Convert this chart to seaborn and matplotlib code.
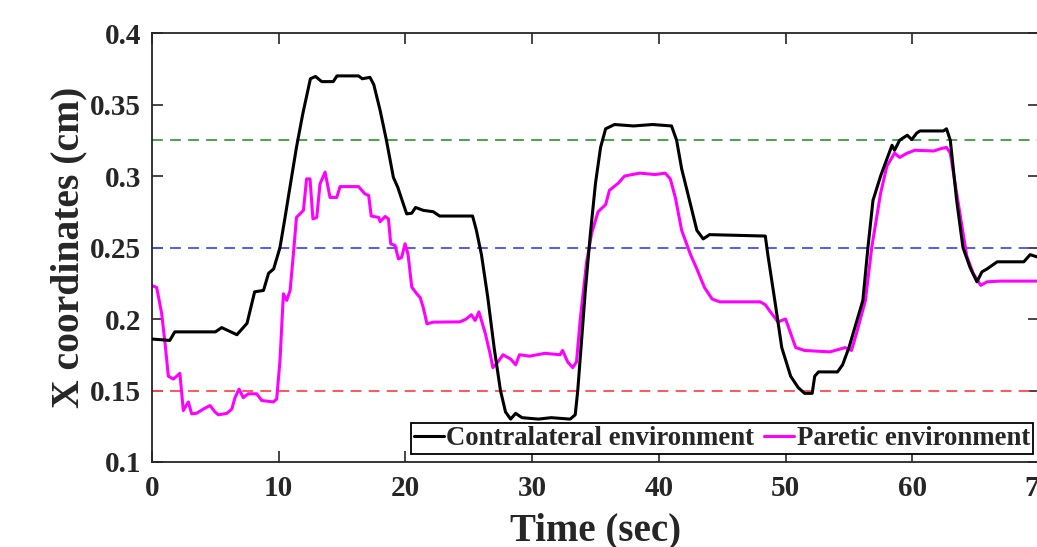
import matplotlib
matplotlib.use("Agg")
import matplotlib.pyplot as plt
import seaborn as sns

# Contralateral environment (black curve)
contra_time = [0, 1.4, 1.8, 5.0, 5.5, 6.7, 7.5, 8.1, 8.8, 9.2, 9.6, 10.1, 10.5, 10.8, 11.4, 11.9,
               12.5, 12.9, 13.4, 14.3, 14.6, 16.3, 16.6, 17.2, 17.5, 18.0, 18.5, 19.05, 19.4, 19.7,
               20.1, 20.5, 20.8, 21.4, 22.2, 22.7, 25.3, 25.6, 26.0, 26.5, 27.0, 27.5, 27.9, 28.3,
               28.7, 29.2, 30.5, 31.5, 33.0, 33.4, 33.6, 34.2, 34.6, 35.0, 35.4, 35.8, 36.5, 38.0,
               39.5, 41.0, 41.4, 41.8, 42.5, 43.0, 43.5, 44.0, 48.4, 48.6, 49.2, 49.7, 50.4, 51.0,
               51.5, 52.1, 52.3, 52.6, 54.1, 54.5, 55.0, 55.5, 56.1, 56.5, 56.9, 57.5, 58.0, 58.4,
               58.6, 59.0, 59.6, 59.96, 60.35, 60.6, 62.45, 62.7, 63.0, 63.5, 64.0, 64.56, 65.1,
               65.5, 65.9, 66.7, 68.8, 69.3, 70]
contra_x = [0.186, 0.185, 0.191, 0.191, 0.194, 0.189, 0.197, 0.219, 0.22, 0.232, 0.235, 0.25,
            0.271, 0.2875, 0.32, 0.3435, 0.368, 0.3696, 0.366, 0.366, 0.37, 0.37, 0.368, 0.369,
            0.364, 0.346, 0.325, 0.299, 0.292, 0.284, 0.2735, 0.274, 0.278, 0.276, 0.275, 0.272,
            0.272, 0.262, 0.245, 0.215, 0.18, 0.15, 0.135, 0.13, 0.134, 0.131, 0.13, 0.131, 0.13,
            0.133, 0.15, 0.22, 0.26, 0.295, 0.32, 0.333, 0.336, 0.335, 0.336, 0.335, 0.325, 0.305,
            0.28, 0.262, 0.256, 0.259, 0.258, 0.245, 0.21, 0.18, 0.16, 0.152, 0.148, 0.148, 0.16,
            0.163, 0.163, 0.168, 0.18, 0.195, 0.213, 0.25, 0.283, 0.300, 0.312, 0.3215, 0.318,
            0.325, 0.3285, 0.3255, 0.330, 0.3315, 0.3315, 0.333, 0.325, 0.283, 0.25, 0.236, 0.226,
            0.233, 0.235, 0.240, 0.240, 0.245, 0.243]

# Paretic environment (magenta curve)
paretic_time = [0, 0.37, 0.76, 1.03, 1.29, 1.68, 1.95, 2.2, 2.47, 2.87, 3.13, 3.5, 4.05, 4.58,
                4.97, 5.24, 5.9, 6.3, 6.55, 6.87, 7.2, 7.6, 8.26, 8.66, 9.58, 9.84, 10.1, 10.37,
                10.63, 10.9, 11.16, 11.4, 11.95, 12.2, 12.47, 12.7, 13.0, 13.26, 13.66, 14.05,
                14.58, 14.84, 16.3, 16.8, 17.1, 17.3, 17.9, 18.0, 18.4, 18.66, 18.84, 19.18, 19.45,
                19.7, 19.97, 20.2, 20.5, 20.9, 21.16, 21.4, 21.7, 22.2, 24.3, 24.8, 25.2, 25.5,
                25.8, 26.3, 26.7, 26.9, 27.3, 27.7, 28.3, 28.7, 29.0, 29.8, 31.0, 32.2, 32.4, 32.8,
                33.2, 33.5, 33.8, 34.3, 34.7, 35.2, 35.8, 36.1, 36.8, 37.3, 38.5, 39.7, 40.5, 40.9,
                41.3, 41.8, 42.5, 43.0, 43.6, 44.2, 44.8, 48.0, 48.4, 48.8, 49.4, 50.0, 50.4, 50.8,
                51.5, 53.5, 54.7, 55.2, 55.6, 56.3, 56.8, 57.5, 58.0, 58.6, 59.0, 59.6, 60.2, 61.7,
                62.2, 62.7, 63.0, 63.5, 64.3, 64.8, 65.4, 65.9, 66.9, 70]
paretic_x = [0.2234, 0.222, 0.204, 0.183, 0.160, 0.158, 0.160, 0.162, 0.136, 0.142, 0.1337, 0.134,
             0.137, 0.1395, 0.135, 0.133, 0.134, 0.137, 0.145, 0.151, 0.145, 0.1477, 0.1477, 0.143,
             0.142, 0.144, 0.171, 0.2176, 0.213, 0.22, 0.2456, 0.271, 0.276, 0.298, 0.298, 0.270,
             0.271, 0.2945, 0.3027, 0.285, 0.285, 0.2926, 0.2926, 0.2875, 0.2864, 0.272, 0.271,
             0.268, 0.2717, 0.270, 0.2526, 0.2514, 0.242, 0.243, 0.2526, 0.2456, 0.2223, 0.2176,
             0.215, 0.2083, 0.1966, 0.1978, 0.198, 0.2, 0.203, 0.199, 0.205, 0.19, 0.175, 0.166,
             0.17, 0.175, 0.172, 0.168, 0.175, 0.174, 0.176, 0.175, 0.178, 0.17, 0.166, 0.17, 0.2,
             0.24, 0.26, 0.275, 0.28, 0.29, 0.295, 0.3, 0.302, 0.301, 0.302, 0.298, 0.285, 0.262,
             0.245, 0.235, 0.222, 0.214, 0.212, 0.212, 0.21, 0.205, 0.198, 0.2, 0.19, 0.18, 0.178,
             0.177, 0.18, 0.178, 0.19, 0.213, 0.25, 0.288, 0.307, 0.316, 0.313, 0.316, 0.318,
             0.3175, 0.319, 0.320, 0.316, 0.288, 0.244, 0.232, 0.2235, 0.226, 0.2265, 0.2265]

# reference levels (dashed)
ref_levels = [0.325, 0.25, 0.15]
ref_colors = ["#3c9e3c", "#4a4aff", "#ff4a4a"]

xticks = [0, 10, 20, 30, 40, 50, 60, 70]
yticks = [0.1, 0.15, 0.2, 0.25, 0.3, 0.35, 0.4]
ytick_labels = ["0.1", "0.15", "0.2", "0.25", "0.3", "0.35", "0.4"]

sns.set_style("ticks")
plt.rcParams["font.family"] = ["Liberation Serif", "DejaVu Serif"]
plt.rcParams["font.weight"] = "bold"

fig = plt.figure(figsize=(10.37, 5.47), dpi=100)
# axes run slightly past the right edge, like the cropped original
ax = fig.add_axes([152 / 1037, (547 - 462) / 547, (1039 - 152) / 1037, (462 - 33) / 547])

for lvl, col in zip(ref_levels, ref_colors):
    ax.axhline(lvl, color=col, lw=1.3, ls=(0, (6, 4)), zorder=1)

sns.lineplot(x=contra_time, y=contra_x, ax=ax, color="black", lw=2.2,
             label="Contralateral environment", sort=False, zorder=3)
sns.lineplot(x=paretic_time, y=paretic_x, ax=ax, color="#ff00ff", lw=2.2,
             label="Paretic environment", sort=False, zorder=2)

ax.set_xlim(0, 70)
ax.set_ylim(0.1, 0.4)
ax.set_xticks(xticks)
ax.set_yticks(yticks)
ax.set_yticklabels(ytick_labels)

for s in ax.spines.values():
    s.set_visible(True)
    s.set_color("#262626")
    s.set_linewidth(1.3)
ax.tick_params(direction="in", length=8, width=1.2, top=True, right=True,
               labelsize=21, colors="#262626")
ax.tick_params(axis="x", pad=9)
ax.tick_params(axis="y", pad=8)
for lab in ax.get_xticklabels() + ax.get_yticklabels():
    lab.set_fontweight("bold")

ax.set_xlabel("Time (sec)", fontsize=28, fontweight="bold", color="#262626", labelpad=8)
ax.set_ylabel("X coordinates (cm)", fontsize=28.5, fontweight="bold", color="#262626")
ax.yaxis.set_label_coords(-0.073, 0.5)

leg = ax.legend(ncol=2, loc="lower right", bbox_to_anchor=(0.993, 0.019), borderaxespad=0,
                fancybox=False, framealpha=1, edgecolor="black",
                prop={"family": "Liberation Serif", "weight": "bold", "size": 19.3},
                handlelength=1.12, handletextpad=0.1, columnspacing=0.37, borderpad=0.1)
leg.get_frame().set_linewidth(1.3)

plt.savefig("out.png", dpi=100)
